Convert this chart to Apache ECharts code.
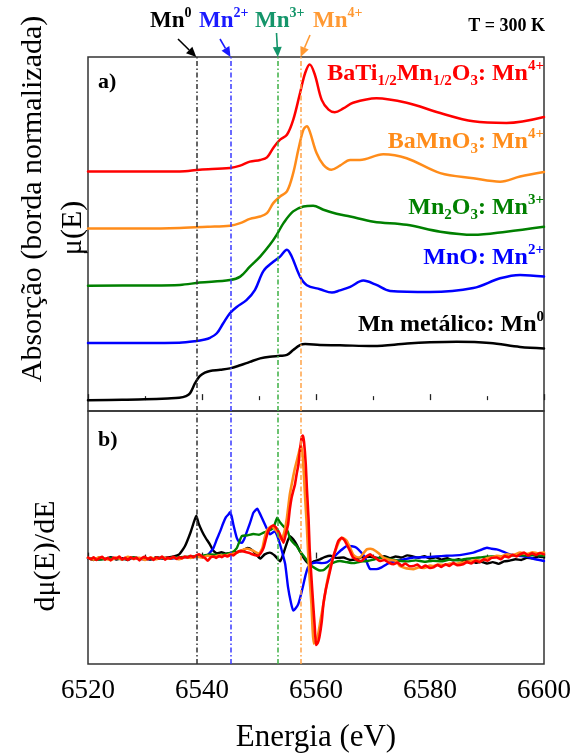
<!DOCTYPE html>
<html>
<head>
<meta charset="utf-8">
<script src="https://cdn.jsdelivr.net/npm/echarts@6/dist/echarts.min.js"></script>
<style>
  html, body { margin: 0; padding: 0; background: #fff; }
  #chart { width: 576px; height: 754px; }
</style>
</head>
<body>
<div id="chart"></div>
<script>
// ---------- a) XANES Mn K-edge: normalised absorption mu(E) ----------
const energiaMn0 = [6520, 6526, 6530, 6534, 6536, 6537.2, 6537.9, 6538.8, 6539.6, 6540.5, 6541.4, 6543.2, 6544.9, 6546.7, 6548.4, 6550.2, 6551.9, 6553.7, 6554.9, 6556.0, 6557.2, 6558.1, 6560.7, 6564.2, 6570.0, 6576.0, 6580, 6584.7, 6590.5, 6595.8, 6600];
const muMn0      = [0, 0.005, 0.015, 0.03, 0.04, 0.07, 0.12, 0.30, 0.42, 0.48, 0.51, 0.53, 0.555, 0.61, 0.67, 0.73, 0.76, 0.775, 0.79, 0.875, 0.96, 0.98, 0.965, 0.96, 0.945, 0.99, 1.01, 1.02, 1.0, 0.93, 0.905];

const energiaMnO = [6520, 6530, 6536, 6538.8, 6540.5, 6541.4, 6542.6, 6543.7, 6544.9, 6546.1, 6547.8, 6549.3, 6550.8, 6552.5, 6553.7, 6554.9, 6555.7, 6557.2, 6558.4, 6560.7, 6562.8, 6564.2, 6566.0, 6568.3, 6570.5, 6573.0, 6580.0, 6587.6, 6592.3, 6595.8, 6600];
const muMnO      = [0, 0.0, 0.005, 0.03, 0.06, 0.09, 0.17, 0.34, 0.52, 0.63, 0.75, 0.93, 1.26, 1.42, 1.51, 1.63, 1.52, 1.16, 1.01, 0.94, 0.88, 0.92, 0.98, 1.09, 1.02, 0.91, 0.89, 0.96, 1.13, 1.19, 1.16];

const energiaMn2O3 = [6520, 6530, 6536.1, 6539.6, 6544.9, 6546.7, 6548.4, 6550.2, 6551.9, 6553.1, 6554.3, 6556.0, 6557.8, 6559.5, 6561.3, 6563.6, 6566.0, 6570.1, 6575.9, 6581.8, 6587.6, 6593.4, 6600];
const muMn2O3      = [0, 0.005, 0.015, 0.055, 0.10, 0.16, 0.335, 0.51, 0.715, 0.89, 1.095, 1.30, 1.385, 1.40, 1.33, 1.26, 1.21, 1.12, 1.065, 0.945, 0.89, 0.945, 1.03];

const energiaBaMnO3 = [6520, 6530, 6536.1, 6541, 6544.9, 6546.7, 6548.4, 6550.2, 6551.4, 6552.5, 6553.7, 6554.9, 6556.0, 6556.9, 6557.8, 6558.4, 6558.9, 6560.1, 6561.3, 6562.7, 6564.2, 6566.0, 6567.7, 6571.8, 6575.9, 6581.8, 6587.6, 6592.3, 6595.8, 6600];
const muBaMnO3      = [0, 0.0, 0.01, 0.03, 0.05, 0.095, 0.17, 0.21, 0.27, 0.445, 0.56, 0.65, 0.97, 1.38, 1.73, 1.79, 1.70, 1.32, 1.115, 1.03, 1.10, 1.20, 1.20, 1.30, 1.23, 0.97, 0.88, 0.82, 0.91, 0.99];

const energiaBaTiMn = [6520, 6530, 6536.1, 6539.6, 6544.9, 6546.7, 6548.4, 6550.2, 6551.4, 6552.5, 6553.7, 6554.9, 6556.0, 6557.2, 6558.1, 6558.9, 6559.8, 6561.0, 6562.2, 6563.3, 6564.8, 6566.5, 6570.6, 6575.9, 6581.8, 6587.6, 6593.4, 6600];
const muBaTiMn      = [0, 0.0, 0.0, 0.03, 0.06, 0.10, 0.17, 0.20, 0.245, 0.41, 0.555, 0.64, 0.90, 1.37, 1.72, 1.87, 1.69, 1.25, 1.08, 1.035, 1.10, 1.20, 1.28, 1.20, 1.02, 0.875, 0.845, 0.95];

// vertical stacking of the spectra (Mn0, MnO, Mn2O3, BaMnO3, BaTi1/2Mn1/2O3)
const deslocamento = [0, 1, 2, 3, 4];

// ---------- b) first derivative d mu(E)/dE ----------
const energiaDMn0 = [6520, 6521, 6522, 6523, 6524, 6525, 6526, 6527, 6528, 6529, 6530, 6531, 6532, 6533, 6534, 6535, 6536, 6537, 6538, 6538.6, 6539, 6539.4, 6540, 6540.6, 6541.4, 6542, 6542.6, 6543.4, 6544.2, 6545, 6546, 6547, 6548, 6548.8, 6549.6, 6550.2, 6551, 6551.9, 6552.8, 6553.7, 6554.3, 6554.8, 6555.4, 6556, 6556.6, 6557.2, 6557.8, 6558.4, 6558.9, 6559.6, 6560.7, 6561.5, 6562.5, 6563.5, 6564.8, 6566, 6567.1, 6568, 6569.5, 6571, 6572, 6573, 6574, 6575, 6576, 6577, 6578, 6579, 6580, 6581, 6582, 6583, 6584, 6585, 6586, 6587, 6588, 6589, 6590, 6591, 6592, 6593, 6594, 6595, 6596, 6597, 6598, 6599, 6600];
const dMn0        = [0.002, -0.004, 0.003, -0.002, 0.004, -0.003, 0.001, -0.004, 0.003, -0.001, 0.002, -0.003, 0.004, 0.001, 0.003, 0.006, 0.012, 0.035, 0.075, 0.105, 0.122, 0.1, 0.078, 0.06, 0.04, 0.022, 0.015, 0.018, 0.014, 0.016, 0.018, 0.022, 0.03, 0.024, 0.01, 0.0, 0.012, 0.017, 0.008, -0.008, 0.015, 0.04, 0.064, 0.055, 0.04, 0.02, 0.003, -0.01, -0.016, -0.008, -0.002, 0.004, 0.008, 0.002, 0.003, -0.004, -0.002, 0.004, 0.005, 0.002, 0.007, 0.001, 0.006, 0.003, 0.009, 0.006, 0.002, 0.007, 0.0, 0.004, -0.003, 0.001, -0.005, -0.002, -0.008, -0.006, -0.012, -0.009, -0.014, -0.01, -0.015, -0.008, -0.006, -0.002, -0.004, 0.002, 0.001, 0.006, 0.004];

const energiaDMnO = [6520, 6522, 6524, 6526, 6528, 6530, 6532, 6534, 6536, 6538, 6540, 6541, 6542, 6542.6, 6543.2, 6543.7, 6544.2, 6544.6, 6544.9, 6545.2, 6545.5, 6546.1, 6546.6, 6547, 6547.4, 6547.8, 6548.4, 6549, 6549.4, 6549.7, 6550.1, 6550.5, 6551.3, 6551.9, 6552.4, 6552.8, 6553.2, 6553.7, 6554.2, 6554.6, 6555.1, 6555.6, 6556, 6556.5, 6556.9, 6557.4, 6557.8, 6558.2, 6558.6, 6559.3, 6560.1, 6561, 6561.9, 6562.8, 6563.6, 6564.5, 6565.4, 6566.3, 6567.1, 6567.9, 6568.6, 6569.1, 6569.5, 6570.6, 6571.5, 6572.4, 6573.2, 6574.1, 6575.5, 6577.1, 6579, 6581, 6582.9, 6584.5, 6586, 6587.6, 6588.8, 6590, 6590.8, 6591.7, 6592.8, 6594, 6595.5, 6597, 6598.5, 6600];
const dMnO        = [0.0, -0.002, 0.002, -0.001, 0.001, -0.002, 0.001, 0.0, 0.002, 0.004, 0.006, 0.01, 0.03, 0.055, 0.078, 0.1, 0.118, 0.125, 0.132, 0.12, 0.097, 0.059, 0.046, 0.045, 0.055, 0.073, 0.1, 0.13, 0.138, 0.142, 0.13, 0.116, 0.088, 0.069, 0.074, 0.078, 0.065, 0.04, 0.01, -0.016, -0.082, -0.125, -0.148, -0.14, -0.129, -0.1, -0.073, -0.045, -0.025, -0.014, -0.011, -0.013, -0.011, 0.0, 0.012, 0.025, 0.036, 0.035, 0.031, 0.018, 0.003, -0.018, -0.03, -0.03, -0.025, -0.016, -0.01, -0.007, -0.002, 0.003, 0.004, 0.006, 0.008, 0.009, 0.012, 0.017, 0.024, 0.031, 0.028, 0.026, 0.02, 0.012, 0.008, 0.005, -0.002, -0.007];

const energiaDMn2O3 = [6520, 6522, 6524, 6526, 6528, 6530, 6532, 6534, 6536, 6538, 6540, 6541.5, 6543, 6544.5, 6545.3, 6546.1, 6546.6, 6547, 6548, 6549, 6550, 6550.8, 6551.5, 6552.2, 6552.7, 6553.2, 6553.6, 6554, 6554.4, 6554.7, 6555.1, 6555.4, 6556, 6556.6, 6557.2, 6557.8, 6558.4, 6558.9, 6559.5, 6560.1, 6560.7, 6561.3, 6561.9, 6562.5, 6563.3, 6564.2, 6565.3, 6566.5, 6567.7, 6568.9, 6570.3, 6571.8, 6573, 6574.5, 6576, 6577.5, 6579, 6580.5, 6582, 6583.5, 6585, 6586.5, 6588, 6589.5, 6591, 6592.5, 6594, 6595.5, 6597, 6598.5, 6600];
const dMn2O3        = [0.001, -0.003, 0.002, -0.002, 0.003, -0.001, 0.002, 0.0, 0.004, 0.006, 0.008, 0.012, 0.01, 0.014, 0.018, 0.03, 0.05, 0.064, 0.066, 0.07, 0.068, 0.074, 0.078, 0.083, 0.095, 0.116, 0.105, 0.097, 0.09, 0.088, 0.075, 0.059, 0.045, 0.036, 0.02, 0.008, -0.005, -0.016, -0.024, -0.03, -0.034, -0.033, -0.025, -0.016, -0.01, -0.007, -0.01, -0.013, -0.009, -0.007, -0.002, 0.003, -0.002, -0.006, -0.008, -0.005, -0.009, -0.006, -0.008, -0.003, -0.005, 0.0, 0.002, 0.005, 0.006, 0.007, 0.008, 0.01, 0.008, 0.01, 0.008];

const energiaDBaMnO3 = [6520, 6521, 6522, 6523, 6524, 6525, 6526, 6527, 6528, 6529, 6530, 6531, 6532, 6533, 6534, 6535, 6536, 6537, 6538, 6539, 6540, 6541, 6542, 6543, 6544, 6544.9, 6546, 6547, 6548, 6549, 6550, 6550.6, 6551, 6551.4, 6551.8, 6552.2, 6552.7, 6553.1, 6553.6, 6554, 6554.5, 6554.9, 6555.4, 6555.9, 6556.3, 6556.9, 6557.2, 6557.4, 6557.7, 6557.9, 6558.1, 6558.4, 6558.6, 6558.9, 6559.2, 6559.4, 6559.6, 6560, 6560.4, 6560.8, 6561.3, 6561.9, 6562.5, 6563, 6563.6, 6564.1, 6564.5, 6565, 6565.4, 6566, 6566.5, 6567.1, 6567.7, 6568.3, 6568.9, 6569.5, 6570, 6571, 6571.8, 6573, 6574.1, 6574.7, 6575.5, 6576.3, 6577.1, 6578, 6579, 6580, 6580.6, 6581.5, 6582.5, 6583.5, 6584.5, 6585.8, 6587, 6588, 6589, 6590, 6591, 6591.7, 6592.5, 6593.5, 6594.5, 6595.8, 6597, 6598, 6599, 6600];
const dBaMnO3        = [0.002, -0.003, 0.004, 0.0, -0.004, 0.003, -0.002, 0.005, -0.001, 0.002, -0.004, 0.003, -0.002, 0.004, 0.0, 0.003, -0.002, 0.004, 0.002, 0.006, 0.003, 0.008, 0.005, 0.009, 0.008, 0.012, 0.016, 0.024, 0.028, 0.022, 0.014, 0.03, 0.06, 0.08, 0.088, 0.092, 0.085, 0.078, 0.062, 0.054, 0.08, 0.116, 0.182, 0.225, 0.257, 0.295, 0.315, 0.323, 0.285, 0.23, 0.172, 0.09, 0.022, -0.06, -0.129, -0.2, -0.242, -0.235, -0.214, -0.175, -0.129, -0.07, -0.025, 0.005, 0.031, 0.05, 0.059, 0.056, 0.05, 0.03, 0.012, 0.004, 0.003, 0.015, 0.026, 0.028, 0.026, 0.015, 0.003, -0.004, -0.007, -0.021, -0.026, -0.029, -0.03, -0.025, -0.027, -0.02, -0.021, -0.017, -0.019, -0.014, -0.015, -0.011, -0.008, -0.004, -0.006, 0.001, 0.004, 0.008, 0.006, 0.012, 0.01, 0.017, 0.013, 0.018, 0.015, 0.017];

const energiaDBaTiMn = [6520, 6520.5, 6521, 6521.5, 6522, 6522.5, 6523, 6523.5, 6524, 6524.5, 6525, 6525.5, 6526, 6526.5, 6527, 6527.5, 6528, 6528.5, 6529, 6529.5, 6530, 6530.5, 6531, 6531.5, 6532, 6532.5, 6533, 6533.5, 6534, 6534.5, 6535, 6535.5, 6536, 6536.5, 6537, 6537.5, 6538, 6538.5, 6539, 6539.5, 6540, 6540.5, 6541, 6541.5, 6542, 6542.5, 6543, 6543.5, 6544, 6544.5, 6545, 6545.5, 6546, 6546.7, 6547.3, 6548, 6548.6, 6549.2, 6549.8, 6550.3, 6550.8, 6551.2, 6551.6, 6552, 6552.5, 6553, 6553.4, 6553.9, 6554.3, 6554.7, 6555.1, 6555.4, 6555.7, 6556, 6556.3, 6556.6, 6556.9, 6557.2, 6557.5, 6557.7, 6557.9, 6558.2, 6558.4, 6558.7, 6558.9, 6559.2, 6559.5, 6559.8, 6560, 6560.3, 6560.6, 6561, 6561.3, 6561.7, 6562.2, 6562.6, 6563, 6563.5, 6563.9, 6564.5, 6565, 6565.4, 6566, 6566.5, 6567, 6567.5, 6568, 6568.5, 6569, 6569.5, 6570, 6570.5, 6571.2, 6572, 6572.8, 6573.6, 6574.3, 6575, 6575.7, 6576.4, 6577.1, 6577.8, 6578.5, 6579.2, 6580, 6580.6, 6581.3, 6582, 6582.7, 6583.4, 6584.1, 6584.8, 6585.8, 6586.5, 6587.2, 6588, 6588.7, 6589.4, 6590.1, 6590.8, 6591.7, 6592.4, 6593.1, 6593.8, 6594.5, 6595.2, 6595.8, 6596.5, 6597.2, 6597.9, 6598.6, 6599.3, 6600];
const dBaTiMn        = [0.003, -0.002, 0.004, -0.004, 0.001, 0.005, -0.003, 0.002, -0.005, 0.003, 0.0, 0.006, -0.003, 0.002, -0.004, 0.004, -0.001, 0.003, -0.005, 0.002, 0.005, -0.002, 0.003, -0.004, 0.004, 0.0, 0.006, -0.003, 0.003, 0.0, 0.005, -0.001, 0.004, 0.001, 0.006, 0.003, 0.008, 0.004, 0.009, 0.012, 0.006, 0.002, -0.006, 0.003, 0.006, 0.002, 0.007, 0.004, 0.009, 0.006, 0.011, 0.009, 0.016, 0.022, 0.02, 0.017, 0.014, 0.01, 0.008, 0.015, 0.031, 0.055, 0.078, 0.088, 0.095, 0.088, 0.078, 0.06, 0.045, 0.07, 0.097, 0.14, 0.172, 0.192, 0.21, 0.24, 0.266, 0.31, 0.346, 0.35, 0.332, 0.27, 0.2, 0.11, 0.022, -0.055, -0.129, -0.2, -0.246, -0.24, -0.223, -0.18, -0.129, -0.09, -0.054, -0.025, 0.003, 0.03, 0.05, 0.059, 0.052, 0.04, 0.02, 0.003, -0.002, -0.006, -0.007, 0.002, 0.008, 0.012, 0.006, 0.001, -0.007, -0.004, -0.012, -0.016, -0.011, -0.02, -0.014, -0.022, -0.021, -0.017, -0.026, -0.02, -0.027, -0.025, -0.018, -0.024, -0.016, -0.021, -0.013, -0.019, -0.016, -0.01, -0.014, -0.006, -0.01, -0.002, -0.006, 0.002, 0.003, -0.002, 0.007, 0.003, 0.011, 0.006, 0.012, 0.017, 0.009, 0.015, 0.01, 0.016, 0.012];

// reference edge positions (eV) for each Mn oxidation state
const bordasEnergia = [6539, 6545, 6553.3, 6557.3];
const bordasRotulo  = ['0', '2+', '3+', '4+'];

// x-axis ticks
const energiaMin = 6520, energiaMax = 6600, energiaPasso = 20;

const cores = { mn0: '#000000', mno: '#0000ff', mn2o3: '#008000', bamno3: '#ff8c1a', bati: '#ff0000' };
const coresBorda = ['#333333', '#3a3aff', '#3cb043', '#ffa347'];
const coresBordaTexto = ['#000000', '#1a1aff', '#14956a', '#ff9933'];
const FONTE = "'Liberation Serif', 'Times New Roman', serif";

const zip = (xs, ys, off) => xs.map((x, i) => [x, ys[i] + (off || 0)]);

const chart = echarts.init(document.getElementById('chart'), null, { renderer: 'canvas' });

function eixoX(idx, comRotulos) {
  return {
    type: 'value', gridIndex: idx, min: energiaMin, max: energiaMax, interval: energiaPasso,
    axisLine: { show: false },
    axisTick: { show: true, inside: true, length: 6, lineStyle: { color: '#222', width: 1.3 } },
    minorTick: { show: true, splitNumber: 2, length: 4, lineStyle: { color: '#222', width: 1.2 } },
    splitLine: { show: false },
    axisLabel: comRotulos
      ? { show: true, fontFamily: FONTE, fontSize: 27, color: '#000', margin: 13, formatter: v => String(v) }
      : { show: false },
    name: comRotulos ? 'Energia (eV)' : '',
    nameLocation: 'middle', nameGap: 58,
    nameTextStyle: { fontFamily: FONTE, fontSize: 31, color: '#000' }
  };
}

function linhasBorda() {
  return {
    symbol: 'none', silent: true, animation: false,
    label: { show: false },
    lineStyle: { type: [5, 2.5, 1.5, 2.5], width: 1.5 },
    data: bordasEnergia.map((e, i) => ({ xAxis: e, lineStyle: { color: coresBorda[i], type: [5, 2.5, 1.5, 2.5], width: 1.5 } }))
  };
}

function serie(nome, dados, cor, painel, largura, suave) {
  return {
    name: nome, type: 'line', xAxisIndex: painel, yAxisIndex: painel,
    data: dados, showSymbol: false, symbol: 'none', smooth: suave,
    lineStyle: { color: cor, width: largura, join: 'round', cap: 'round' },
    itemStyle: { color: cor }, z: 3, animation: false
  };
}

const option = {
  animation: false,
  backgroundColor: '#ffffff',
  grid: [
    { left: 88, right: 32, top: 57, height: 354, show: true, borderColor: '#333', borderWidth: 1.5, backgroundColor: 'transparent' },
    { left: 88, right: 32, top: 411, height: 256, show: true, borderColor: '#333', borderWidth: 1.5, backgroundColor: 'transparent' }
  ],
  xAxis: [eixoX(0, false), eixoX(1, true)],
  yAxis: [
    { type: 'value', gridIndex: 0, min: -0.19, max: 6.0,
      axisLine: { show: false }, splitLine: { show: false }, axisLabel: { show: false },
      axisTick: { show: true, inside: false, length: 4, customValues: [2.59], lineStyle: { color: '#222', width: 1.3 } } },
    { type: 'value', gridIndex: 1, min: -0.3, max: 0.42,
      axisLine: { show: false }, splitLine: { show: false }, axisLabel: { show: false }, axisTick: { show: false } }
  ],
  series: [
    { type: 'line', xAxisIndex: 0, yAxisIndex: 0, data: [], z: 1, markLine: linhasBorda() },
    { type: 'line', xAxisIndex: 1, yAxisIndex: 1, data: [], z: 1, markLine: linhasBorda() },
    serie('Mn metálico', zip(energiaMn0, muMn0, deslocamento[0]), cores.mn0, 0, 2.5, 0.35),
    serie('MnO', zip(energiaMnO, muMnO, deslocamento[1]), cores.mno, 0, 2.5, 0.35),
    serie('Mn2O3', zip(energiaMn2O3, muMn2O3, deslocamento[2]), cores.mn2o3, 0, 2.5, 0.35),
    serie('BaMnO3', zip(energiaBaMnO3, muBaMnO3, deslocamento[3]), cores.bamno3, 0, 2.5, 0.35),
    serie('BaTi1/2Mn1/2O3', zip(energiaBaTiMn, muBaTiMn, deslocamento[4]), cores.bati, 0, 2.5, 0.35),
    serie('d Mn metálico', zip(energiaDMn0, dMn0), cores.mn0, 1, 2.4, 0.15),
    serie('d MnO', zip(energiaDMnO, dMnO), cores.mno, 1, 2.4, 0.15),
    serie('d Mn2O3', zip(energiaDMn2O3, dMn2O3), cores.mn2o3, 1, 2.4, 0.15),
    serie('d BaMnO3', zip(energiaDBaMnO3, dBaMnO3), cores.bamno3, 1, 2.6, 0.15),
    serie('d BaTi1/2Mn1/2O3', zip(energiaDBaTiMn, dBaTiMn), cores.bati, 1, 2.6, 0.15)
  ]
};
chart.setOption(option);

// ---------- text and arrows ----------
function estilosRicos(cor, tam) {
  const pequeno = Math.round(tam * 0.62);
  return {
    n:   { fill: cor, fontFamily: FONTE, fontWeight: 'bold', fontSize: tam, lineHeight: tam + 6 },
    sup: { fill: cor, fontFamily: FONTE, fontWeight: 'bold', fontSize: pequeno, lineHeight: pequeno + 2, verticalAlign: 'top' },
    sub: { fill: cor, fontFamily: FONTE, fontWeight: 'bold', fontSize: pequeno, lineHeight: pequeno - 1, verticalAlign: 'bottom' }
  };
}

function textoRico(texto, x, y, cor, tam, alinhamento) {
  return {
    type: 'text', x: x, y: y, z: 10, silent: true,
    style: {
      text: texto, fill: cor, rich: estilosRicos(cor, tam),
      fontFamily: FONTE, fontWeight: 'bold', fontSize: tam,
      align: alinhamento, verticalAlign: 'middle',
      textAlign: alinhamento, textVerticalAlign: 'middle'
    }
  };
}

function textoSimples(texto, x, y, tam, peso, rot) {
  return {
    type: 'text', x: x, y: y, rotation: rot || 0, z: 10, silent: true,
    style: {
      text: texto, fill: '#000', fontFamily: FONTE, fontSize: tam, fontWeight: peso,
      align: 'center', verticalAlign: 'middle', textAlign: 'center', textVerticalAlign: 'middle'
    }
  };
}

function seta(x0, y0, x1, y1, cor) {
  const ang = Math.atan2(y1 - y0, x1 - x0);
  const comp = 10, meia = 4.5;
  const bx = x1 - comp * Math.cos(ang), by = y1 - comp * Math.sin(ang);
  const px = -Math.sin(ang) * meia, py = Math.cos(ang) * meia;
  return [
    { type: 'line', z: 10, silent: true, shape: { x1: x0, y1: y0, x2: bx, y2: by }, style: { stroke: cor, lineWidth: 1.6 } },
    { type: 'polygon', z: 10, silent: true, shape: { points: [[x1, y1], [bx + px, by + py], [bx - px, by - py]] }, style: { fill: cor } }
  ];
}

const topoA = 57;
const xBorda = bordasEnergia.map(e => chart.convertToPixel({ xAxisIndex: 0 }, e));
const rotuloX = [150, 199, 255, 313];
const setaInicio = [[178, 39], [220, 39], [276.5, 33], [310, 35]];

const graficos = [];
bordasRotulo.forEach((r, i) => {
  graficos.push(textoRico('{n|Mn}{sup|' + r + '}', rotuloX[i], 21, coresBordaTexto[i], 23, 'left'));
  seta(setaInicio[i][0], setaInicio[i][1], xBorda[i], topoA, coresBordaTexto[i]).forEach(g => graficos.push(g));
});

graficos.push(textoRico('{n|T = 300 K}', 545, 26, '#000', 18, 'right'));

graficos.push(textoRico('{n|BaTi}{sub|1/2}{n|Mn}{sub|1/2}{n|O}{sub|3}{n|: Mn}{sup|4+}', 544, 74, cores.bati, 24, 'right'));
graficos.push(textoRico('{n|BaMnO}{sub|3}{n|: Mn}{sup|4+}', 544, 142, cores.bamno3, 24, 'right'));
graficos.push(textoRico('{n|Mn}{sub|2}{n|O}{sub|3}{n|: Mn}{sup|3+}', 544, 208, cores.mn2o3, 24, 'right'));
graficos.push(textoRico('{n|MnO: Mn}{sup|2+}', 544, 258, cores.mno, 24, 'right'));
graficos.push(textoRico('{n|Mn metálico: Mn}{sup|0}', 544, 325, cores.mn0, 24, 'right'));

graficos.push(textoRico('{n|a)}', 98, 82, '#000', 22, 'left'));
graficos.push(textoRico('{n|b)}', 98, 440, '#000', 22, 'left'));

graficos.push(textoSimples('Absorção (borda normalizada)', 33, 199, 30, 'normal', Math.PI / 2));
graficos.push(textoSimples('μ(E)', 73, 228, 30, 'normal', Math.PI / 2));
graficos.push(textoSimples('dμ(E)/dE', 46, 556, 30, 'normal', Math.PI / 2));

chart.setOption({ graphic: { elements: graficos } });
</script>
</body>
</html>
